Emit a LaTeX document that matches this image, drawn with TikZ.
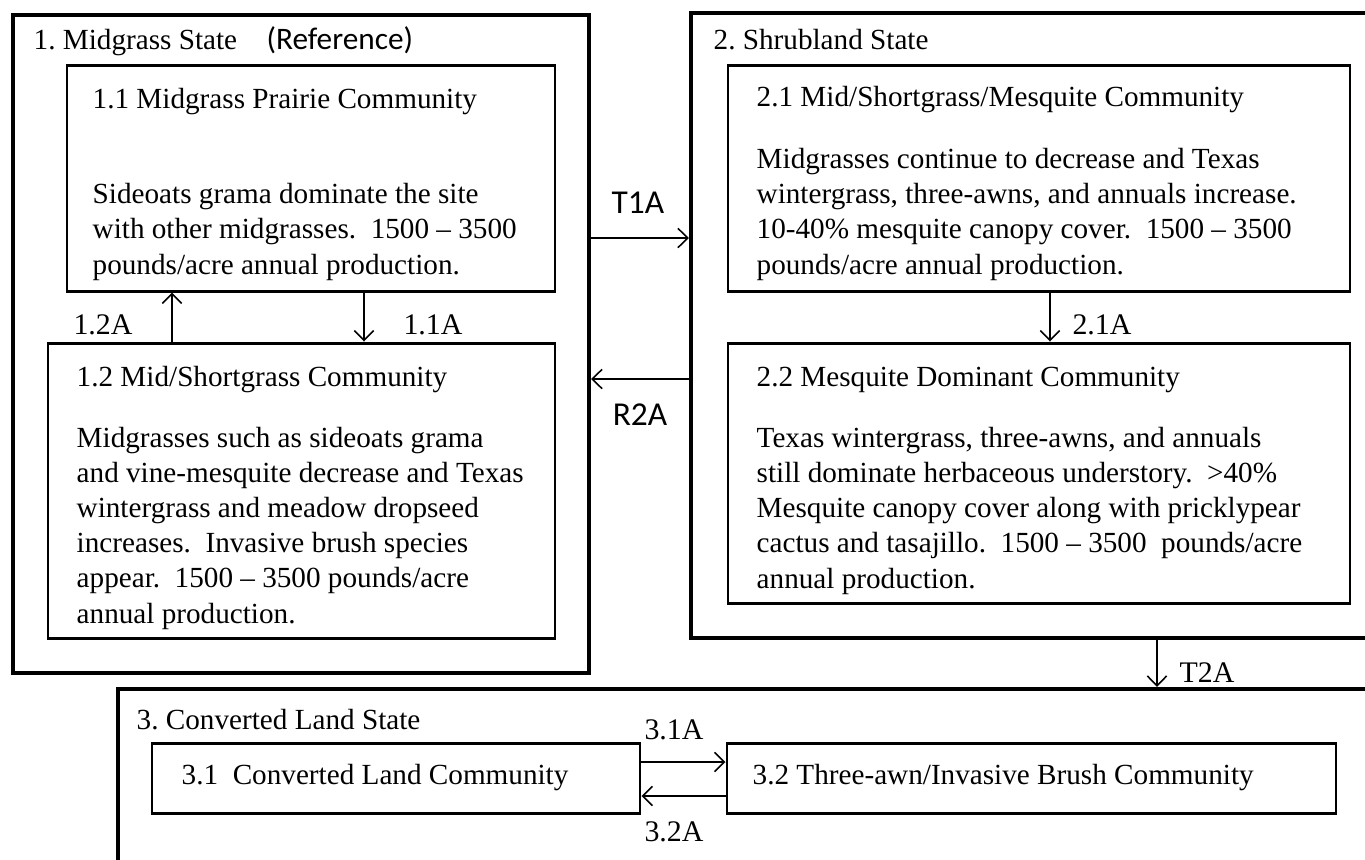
\documentclass[tikz,border=0pt]{standalone}
\usepackage{fontspec}
\setmainfont{Liberation Serif}
\newfontfamily\calibri{Carlito}
\usetikzlibrary{arrows.meta,fit}

\begin{document}
\begin{tikzpicture}[x=0.01cm,y=-0.01cm,
    statebox/.style={draw,line width=1.2pt,inner sep=0pt},
    commbox/.style={draw,line width=0.85pt,inner sep=0pt},
    txt/.style={inner sep=0pt,align=left,anchor=base west,
      font=\fontsize{8.3}{9.96}\selectfont},
    lbl/.style={inner sep=0pt,font=\fontsize{8.5}{9}\selectfont},
    sanslbl/.style={inner sep=0pt,font=\calibri\fontsize{9.5}{10}\selectfont},
    arr/.style={-{Straight Barb[length=2.8pt,width=5.5pt]},line width=0.45pt}]
  \useasboundingbox (0,0) rectangle (1365,860);
  \clip (0,0) rectangle (1365,860);

  % states
  \node[statebox,fit={(13,15) (589,673)}] (S1) {};
  \node[statebox,fit={(691,13) (1420,638)}] (S2) {};
  \node[statebox,fit={(118,689) (1420,920)}] (S3) {};

  \node[txt] (S1t) at (33,49) {1.\ Midgrass State};
  \node[sanslbl,anchor=base west,font=\calibri\fontsize{8.9}{10}\selectfont] (S1r) at (266,49) {(Reference)};
  \node[txt] (S2t) at (713,49) {2.\ Shrubland State};
  \node[txt] (S3t) at (136,729) {3.\ Converted Land State};

  % communities
  \node[commbox,fit={(67,65) (555,291)}] (C11) {};
  \node[commbox,fit={(48,343) (555,638)}] (C12) {};
  \node[commbox,fit={(728,65) (1350,291)}] (C21) {};
  \node[commbox,fit={(728,343) (1350,603)}] (C22) {};
  \node[commbox,fit={(152,743) (640,813)}] (C31) {};
  \node[commbox,fit={(727,743) (1336,813)}] (C32) {};

  % bodies sit on the baseline of their last line
  \path
  (92,108) node[txt] (C11t) {1.1 Midgrass Prairie Community}
  (92,274) node[txt] (C11b) {Sideoats grama dominate the site\\
    with other midgrasses.\ \ 1500 -- 3500\\
    pounds/acre annual production.}
  (76,386) node[txt] (C12t) {1.2 Mid/Shortgrass Community}
  (76,623) node[txt] (C12b) {Midgrasses such as sideoats grama\\
    and vine-mesquite decrease and Texas\\
    wintergrass and meadow dropseed\\
    increases.\ \ Invasive brush species\\
    appear.\ \ 1500 -- 3500 pounds/acre\\
    annual production.}
  (756,106) node[txt] (C21t) {2.1 Mid/Shortgrass/Mesquite Community}
  (756,274) node[txt] (C21b) {Midgrasses continue to decrease and Texas\\
    wintergrass, three-awns, and annuals increase.\\
    10-40\% mesquite canopy cover.\ \ 1500 -- 3500\\
    pounds/acre annual production.}
  (756,386) node[txt] (C22t) {2.2 Mesquite Dominant Community}
  (756,588) node[txt] (C22b) {Texas wintergrass,\ three-awns, and annuals\\
    still dominate herbaceous understory.\ \ >40\%\\
    Mesquite canopy cover along with pricklypear\\
    cactus and tasajillo.\ \ 1500 -- 3500\ \ pounds/acre\\
    annual production.}
  (181,784) node[txt] (C31t) {3.1\ \ Converted Land Community}
  (752,784) node[txt] (C32t) {3.2 Three-awn/Invasive Brush Community}
  ;

  % transitions
  \coordinate (T1y) at (0,238);
  \coordinate (R2y) at (0,379);
  \coordinate (A11x) at (364,0);
  \coordinate (A12x) at (172,0);
  \coordinate (A21x) at (1050,0);
  \coordinate (T2x) at (1157,0);
  \coordinate (A31y) at (0,762);
  \coordinate (A32y) at (0,796);

  \draw[arr] (S1.east |- T1y) -- (S2.west |- T1y);
  \draw[arr] (S2.west |- R2y) -- (S1.east |- R2y);
  \draw[arr] (C11.south -| A11x) -- (C12.north -| A11x);
  \draw[arr] (C12.north -| A12x) -- (C11.south -| A12x);
  \draw[arr] (C21.south -| A21x) -- (C22.north -| A21x);
  \draw[arr] (S2.south -| T2x) -- (S3.north -| T2x);
  \draw[arr] (C31.east |- A31y) -- (C32.west |- A31y);
  \draw[arr] (C32.west |- A32y) -- (C31.east |- A32y);

  \node[sanslbl] (T1A) at (638,203) {T1A};
  \node[sanslbl] (R2A) at (640,415) {R2A};
  \node[lbl] (L12A) at (103,325) {1.2A};
  \node[lbl] (L11A) at (433,325) {1.1A};
  \node[lbl] (L21A) at (1102,325) {2.1A};
  \node[lbl] (T2A) at (1207,673) {T2A};
  \node[lbl] (L31A) at (674,730) {3.1A};
  \node[lbl] (L32A) at (674,832) {3.2A};
\end{tikzpicture}
\end{document}
